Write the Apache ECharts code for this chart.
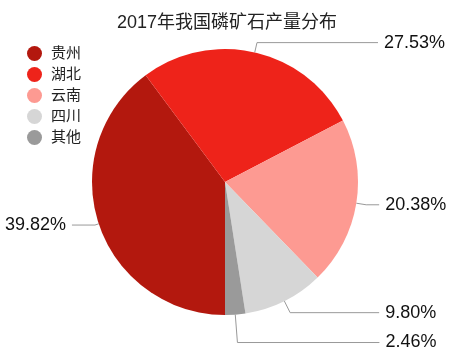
<!DOCTYPE html>
<html>
<head>
<meta charset="utf-8">
<script src="https://cdn.jsdelivr.net/npm/echarts@6/dist/echarts.min.js"></script>
<style>html,body{margin:0;padding:0;background:#fff;}#c{width:454px;height:357px;}</style>
</head>
<body>
<div id="c"></div>
<script>
const titleText = '2017年我国磷矿石产量分布';
const categories = ['贵州', '湖北', '云南', '四川', '其他'];
const values = [39.82, 27.53, 20.38, 9.80, 2.46];
const colors = ['#b3180e', '#ee231a', '#fd9a92', '#d6d6d6', '#9a9a9a'];

// label-line styling per slice (first segment, second segment)
const lineStyleCfg = {
  '贵州': [4, 23],
  '湖北': [10, 121],
  '云南': [10, 13],
  '四川': [13, 89],
  '其他': [28, 142]
};

const FONT = '"Liberation Sans", "Noto Sans CJK SC", sans-serif';
const chart = echarts.init(document.getElementById('c'));
chart.setOption({
  animation: false,
  backgroundColor: '#fff',
  color: colors,
  title: {
    text: titleText,
    left: 'center',
    top: 9,
    textStyle: { fontFamily: FONT, fontSize: 18, fontWeight: 'normal', color: '#222' }
  },
  legend: {
    orient: 'vertical',
    left: 22,
    top: 41,
    icon: 'circle',
    itemWidth: 15,
    itemHeight: 15,
    itemGap: 6,
    data: categories,
    textStyle: { fontFamily: FONT, fontSize: 15, color: '#222', padding: [0, 0, 0, 4] }
  },
  series: [{
    type: 'pie',
    center: [225, 182],
    radius: 133,
    startAngle: -90,
    clockwise: true,
    avoidLabelOverlap: true,
    itemStyle: { borderWidth: 0 },
    label: {
      show: true,
      formatter: p => values[p.dataIndex].toFixed(2) + '%',
      fontFamily: FONT,
      fontSize: 18,
      color: '#111',
      overflow: 'none',
      alignTo: 'none',
      distanceToLabelLine: 6
    },
    labelLine: { show: true, lineStyle: { color: '#999', width: 1 } },
    emphasis: { disabled: true },
    data: categories.map((c, i) => ({
      name: c,
      value: values[i],
      labelLine: { length: lineStyleCfg[c][0], length2: lineStyleCfg[c][1] }
    }))
  }]
});
</script>
</body>
</html>
